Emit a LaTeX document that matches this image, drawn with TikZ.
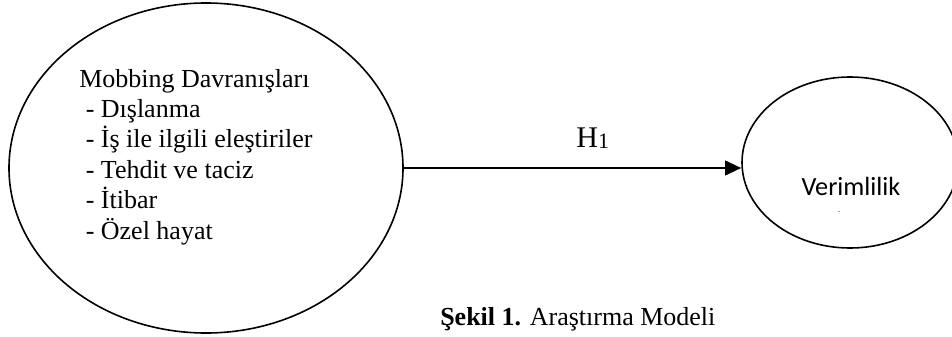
\documentclass[tikz,border=0pt]{standalone}
\usepackage{fontspec}
\setmainfont{Liberation Serif}
\newfontfamily\carlito{Carlito}
\usetikzlibrary{shapes.geometric,arrows.meta}
\tikzset{
  oval/.style={draw,ellipse,line width=1.2pt,inner sep=0pt},
  txt/.style={inner sep=0pt,font=\fontsize{19.5}{22.8}\selectfont},
}
\begin{document}
\begin{tikzpicture}[x=0.75pt,y=0.75pt]
        \useasboundingbox (0,0) rectangle (952,336);
        \node[oval,minimum width=295.5pt,minimum height=247.5pt] (mobbing) at (206,168) {};
        \node[txt,align=left,anchor=base west] (mobbingtext) at (79,97)
            {Mobbing Davranışları\\\ - Dışlanma\\\ - İş ile ilgili eleştiriler\\\ - Tehdit ve taciz\\\ - İtibar\\\ - Özel hayat};

        \node[oval,minimum width=162pt,minimum height=128.25pt] (verim) at (850,173.5) {};
        \node[inner sep=0pt,font=\carlito\fontsize{19.7}{23}\selectfont,anchor=base] (verimtext) at (851,141) {Verimlilik};
        \node[inner sep=0pt,font=\carlito\fontsize{6}{7}\selectfont,anchor=base] (dot) at (839,124) {.};

        \draw[line width=1.5pt,-{Triangle[length=12pt,width=11pt]}] (mobbing.east) -- (mobbing.east -| verim.west)
            node[pos=0.56,above=13.5pt,inner sep=0pt,font=\fontsize{22.5}{24}\selectfont] (hyp) {H\raisebox{-1.3pt}{\fontsize{16.5}{18}\selectfont 1}};

        \node[txt,anchor=base west] (caption) at (440,11) {\textbf{Şekil 1.} Araştırma Modeli};
    \end{tikzpicture}
\end{document}
